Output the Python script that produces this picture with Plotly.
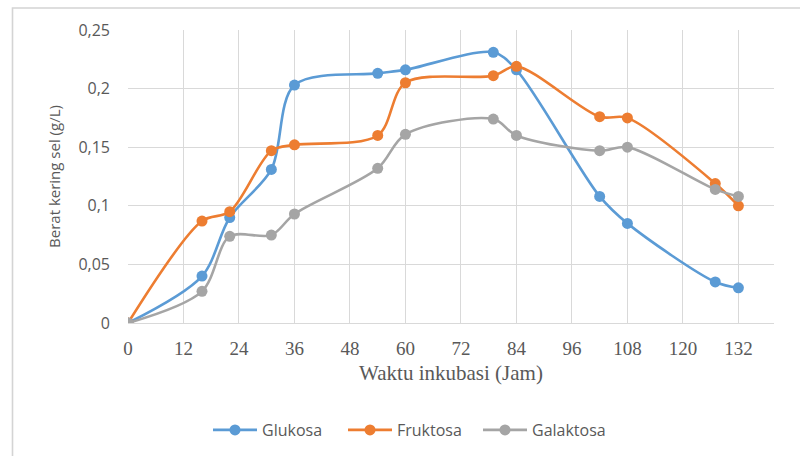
import plotly.graph_objects as go

# Data
waktu = [0, 16, 22, 31, 36, 54, 60, 79, 84, 102, 108, 127, 132]
glukosa = [0, 0.040, 0.090, 0.131, 0.203, 0.213, 0.216, 0.231, 0.216, 0.108, 0.085, 0.035, 0.030]
fruktosa = [0, 0.087, 0.095, 0.147, 0.152, 0.160, 0.205, 0.211, 0.219, 0.176, 0.175, 0.119, 0.100]
galaktosa = [0, 0.027, 0.074, 0.075, 0.093, 0.132, 0.161, 0.174, 0.160, 0.147, 0.150, 0.114, 0.108]

x_ticks = [0, 12, 24, 36, 48, 60, 72, 84, 96, 108, 120, 132]
y_ticks = [0, 0.05, 0.1, 0.15, 0.2, 0.25]
y_ticktext = ["0", "0,05", "0,1", "0,15", "0,2", "0,25"]

series = [
    ("Glukosa", glukosa, "#5B9BD5"),
    ("Fruktosa", fruktosa, "#ED7D31"),
    ("Galaktosa", galaktosa, "#A5A5A5"),
]

W, H = 800, 456
L, R, T, B = 128, 26, 30, 133
pw, ph = W - L - R, H - T - B

def px2paper_x(px):
    return (px - L) / pw

def px2paper_y(py):
    return (H - B - py) / ph

fig = go.Figure()
for name, vals, col in series:
    fig.add_trace(go.Scatter(
        x=waktu, y=vals, name=name, mode="lines+markers",
        line=dict(color=col, width=2.6, shape="spline", smoothing=0.9),
        marker=dict(color=col, size=11),
    ))

sans = "'Open Sans', 'Liberation Sans', sans-serif"
serif = "'Liberation Serif', serif"
txt = "#595959"

fig.update_layout(
    width=W, height=H,
    margin=dict(l=L, r=R, t=T, b=B, autoexpand=False),
    paper_bgcolor="white", plot_bgcolor="white",
    showlegend=True,
    legend=dict(
        orientation="h", xanchor="left", yanchor="middle",
        x=px2paper_x(208), y=px2paper_y(430),
        font=dict(family=sans, size=16, color=txt),
        itemwidth=44, entrywidth=76, entrywidthmode="pixels",
    ),
    xaxis=dict(
        range=[0, 139.7], tickvals=x_ticks, ticktext=[str(v) for v in x_ticks],
        showgrid=True, gridcolor="#d9d9d9", gridwidth=1, automargin=False,
        zeroline=False, showline=True, linecolor="#d9d9d9", linewidth=1,
        ticks="", ticklabelstandoff=8,
        tickfont=dict(family=serif, size=19, color=txt),
        title=dict(text="Waktu inkubasi (Jam)", font=dict(family=serif, size=21, color=txt), standoff=7),
    ),
    yaxis=dict(
        range=[0, 0.25], tickvals=y_ticks, ticktext=y_ticktext,
        showgrid=True, gridcolor="#d9d9d9", gridwidth=1, automargin=False,
        zeroline=False, showline=False, ticks="", ticklabelstandoff=17,
        tickfont=dict(family=sans, size=16, color=txt),
        title=dict(text="Berat kering sel (g/L)", font=dict(family=sans, size=15, color=txt), standoff=14),
    ),
    shapes=[
        dict(type="rect", xref="paper", yref="paper", layer="below",
             x0=px2paper_x(12.5), x1=px2paper_x(806), y0=px2paper_y(470), y1=px2paper_y(8),
             line=dict(color="#d4d4d4", width=1.6), fillcolor="rgba(0,0,0,0)"),
    ],
)

fig.write_html("out.html", config={"displayModeBar": False},
               post_script="document.body.style.margin='0';")
